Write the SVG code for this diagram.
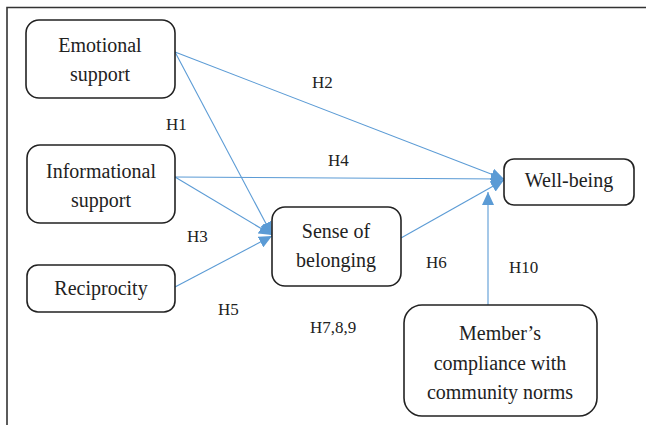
<svg xmlns="http://www.w3.org/2000/svg" width="646" height="425" viewBox="0 0 646 425">
<style>
.box{fill:#fff;stroke:#222;stroke-width:1.6}
.t{font-size:20px;fill:#222;text-anchor:middle}
.l{font-size:17px;fill:#222}
.c{stroke:#5B9BD5;stroke-width:1.1;fill:none;marker-end:url(#ah)}
</style>
<defs>
<marker id="ah" markerUnits="userSpaceOnUse" markerWidth="14" markerHeight="12" refX="13" refY="6" orient="auto">
<path d="M0,0 L13,6 L0,12 Z" fill="#5B9BD5"/>
</marker>
</defs>
<rect width="646" height="425" fill="#fff"/>
<path d="M7,430 V7.5 H650" fill="none" stroke="#333" stroke-width="1.6"/>
<g id="connectors">
<line class="c" x1="175" y1="52" x2="504" y2="179"/>
<line class="c" x1="175" y1="52" x2="272" y2="235"/>
<line class="c" x1="175" y1="177" x2="504" y2="179"/>
<line class="c" x1="175" y1="177" x2="272" y2="235"/>
<line class="c" x1="175" y1="287" x2="272" y2="236"/>
<line class="c" x1="401" y1="238" x2="504" y2="180"/>
<line class="c" x1="488" y1="305" x2="488" y2="192"/>
</g>
<g font-family="'Liberation Serif', 'Times New Roman', serif">
<g id="labels">
<text class="l" x="166" y="130">H1</text>
<text class="l" x="312" y="88">H2</text>
<text class="l" x="187" y="242">H3</text>
<text class="l" x="328" y="166">H4</text>
<text class="l" x="218" y="315">H5</text>
<text class="l" x="426" y="268">H6</text>
<text class="l" x="310" y="333">H7,8,9</text>
<text class="l" x="509" y="273">H10</text>
</g>
<g id="emotional">
<rect class="box" x="26" y="20" width="149" height="78" rx="13"/>
<text class="t" x="100" y="52">Emotional</text>
<text class="t" x="100" y="81">support</text>
</g>
<g id="informational">
<rect class="box" x="27" y="145" width="148" height="78" rx="13"/>
<text class="t" x="101" y="178">Informational</text>
<text class="t" x="101" y="207">support</text>
</g>
<g id="reciprocity">
<rect class="box" x="27" y="265" width="148" height="47" rx="11"/>
<text class="t" x="101" y="295">Reciprocity</text>
</g>
<g id="belonging">
<rect class="box" x="272" y="207" width="129" height="79" rx="13"/>
<text class="t" x="336" y="238">Sense of</text>
<text class="t" x="336" y="267">belonging</text>
</g>
<g id="wellbeing">
<rect class="box" x="504" y="159" width="130" height="46" rx="10"/>
<text class="t" x="569" y="187">Well-being</text>
</g>
<g id="compliance">
<rect class="box" x="404" y="305" width="193" height="111" rx="18"/>
<text class="t" x="500" y="340">Member’s</text>
<text class="t" x="500" y="370">compliance with</text>
<text class="t" x="500" y="399">community norms</text>
</g>
</g>
</svg>
